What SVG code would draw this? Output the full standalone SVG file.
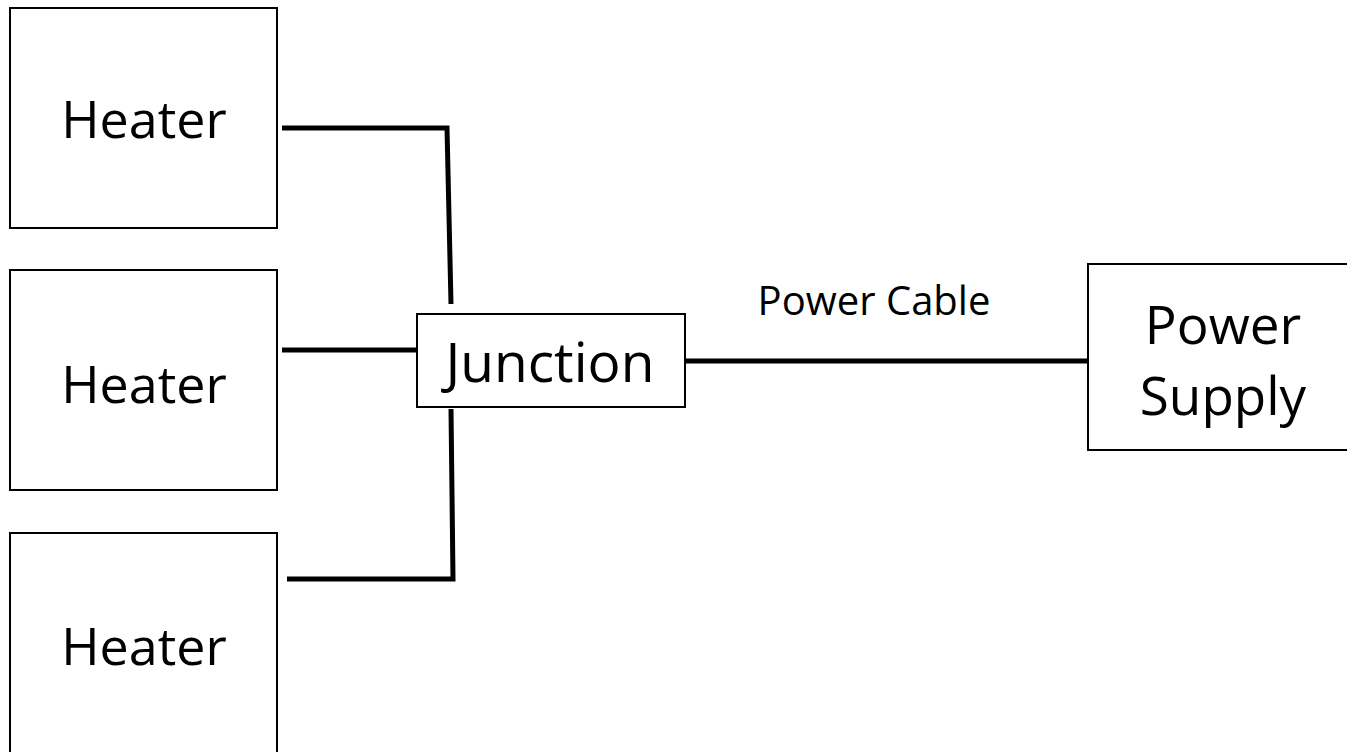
<svg xmlns="http://www.w3.org/2000/svg" width="1347" height="752" viewBox="0 0 1347 752">
<style>
.box{fill:#fff;stroke:#000;stroke-width:2}
.lbl{font-family:"Open Sans","Liberation Sans",sans-serif;fill:#000;text-anchor:middle}
.wire{fill:none;stroke:#000;stroke-width:5;stroke-linecap:butt}
</style>
<rect width="1347" height="752" fill="#fff"/>
<g id="connectors">
<polyline class="wire" points="282,128 447,128 451,304"/>
<line class="wire" x1="282" y1="350" x2="417" y2="350"/>
<polyline class="wire" points="287,579 453,579 451,409"/>
<line class="wire" x1="685" y1="361" x2="1088" y2="361"/>
<text class="lbl" x="874" y="315" font-size="40">Power Cable</text>
</g>
<g id="heater1">
<rect class="box" x="10" y="8" width="267" height="220"/>
<text class="lbl" x="144" y="138" font-size="52">Heater</text>
</g>
<g id="heater2">
<rect class="box" x="10" y="270" width="267" height="220"/>
<text class="lbl" x="144" y="403" font-size="52">Heater</text>
</g>
<g id="heater3">
<rect class="box" x="10" y="533" width="267" height="240"/>
<text class="lbl" x="144" y="665" font-size="52">Heater</text>
</g>
<g id="junction">
<rect class="box" x="417" y="314" width="268" height="93"/>
<text class="lbl" x="550" y="382" font-size="55">Junction</text>
</g>
<g id="power-supply">
<rect class="box" x="1088" y="264" width="270" height="186"/>
<text class="lbl" x="1223" y="344" font-size="53">Power</text>
<text class="lbl" x="1223" y="415" font-size="53">Supply</text>
</g>
</svg>
